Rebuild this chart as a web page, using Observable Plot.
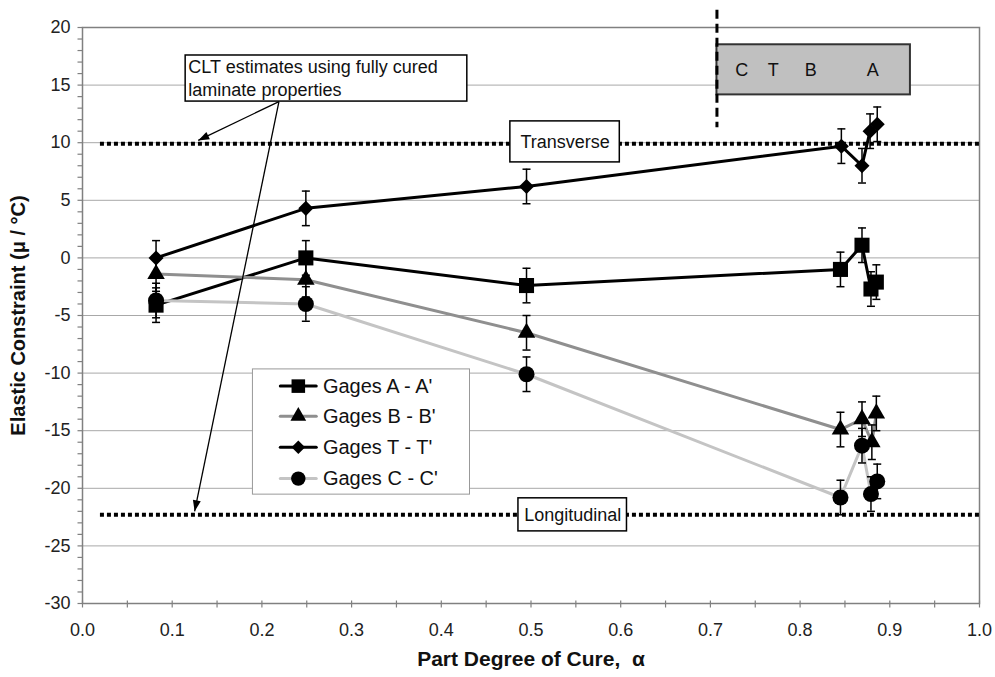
<!DOCTYPE html>
<html>
<head>
<meta charset="utf-8">
<script src="https://cdn.jsdelivr.net/npm/d3@7"></script>
<script src="https://cdn.jsdelivr.net/npm/@observablehq/plot@0.6"></script>
<style>
  body { margin: 0; background: #fff; }
  svg { display: block; }
</style>
</head>
<body>
<div id="chart"></div>
<script>
// Elastic constraint measured by each gage pair vs. part degree of cure
const cureA = [0.082, 0.249, 0.495, 0.845, 0.869, 0.879, 0.885];
const gageA = [-4.1, 0.0, -2.4, -1.0, 1.1, -2.7, -2.1];
const cureB = [0.082, 0.249, 0.495, 0.845, 0.869, 0.880, 0.885];
const gageB = [-1.4, -1.9, -6.5, -14.9, -14.0, -16.0, -13.5];
const cureT = [0.082, 0.249, 0.495, 0.846, 0.869, 0.878, 0.886];
const gageT = [0.0, 4.3, 6.2, 9.7, 8.0, 11.0, 11.6];
const cureC = [0.082, 0.249, 0.495, 0.845, 0.869, 0.879, 0.886];
const gageC = [-3.7, -4.0, -10.1, -20.8, -16.3, -20.5, -19.4];
const errorHalf = 1.5;

// CLT estimates (fully cured laminate)
const cltTransverse = 9.9;
const cltLongitudinal = -22.3;

// Gage locations along the part
const gageLetters = ["C", "T", "B", "A"];
const gageLetterX = [0.735, 0.770, 0.812, 0.881];

const seriesNames = ["Gages A - A'", "Gages B - B'", "Gages T - T'", "Gages C - C'"];
const xTicks = [0, 0.1, 0.2, 0.3, 0.4, 0.5, 0.6, 0.7, 0.8, 0.9, 1.0];
const yTicks = [-30, -25, -20, -15, -10, -5, 0, 5, 10, 15, 20];

// ---- symbols ----
const diamond = {draw(ctx, size) {
  const h = Math.sqrt(size / 2);
  ctx.moveTo(0, -h); ctx.lineTo(h, 0); ctx.lineTo(0, h); ctx.lineTo(-h, 0); ctx.closePath();
}};
const capSymbol = {draw(ctx) { ctx.moveTo(-4, 0); ctx.lineTo(4, 0); }};
const yTickSymbol = {draw(ctx) { ctx.moveTo(-5, 0); ctx.lineTo(0, 0); }};
const xTickSymbol = {draw(ctx) { ctx.moveTo(0, -3); ctx.lineTo(0, 4); }};
// filled arrowhead, tip at the origin pointing up (rotated per arrow)
const arrowHead = {draw(ctx) { ctx.moveTo(0, 0); ctx.lineTo(-4, 11); ctx.lineTo(4, 11); ctx.closePath(); }};

const styles = [
  {stroke: "#000000", symbol: "square", r: 8.5},
  {stroke: "#8f8f8f", symbol: "triangle", r: 6.5},
  {stroke: "#000000", symbol: diamond, r: 6},
  {stroke: "#c4c4c4", symbol: "circle", r: 8}
];
const cures = [cureA, cureB, cureT, cureC];
const values = [gageA, gageB, gageT, gageC];
const series = seriesNames.map((name, k) => ({
  name, ...styles[k],
  points: cures[k].map((x, i) => ({x, y: values[k][i]}))
}));
const allPoints = series.flatMap(s => s.points);

const font = "'Liberation Sans', Arial, Helvetica, sans-serif";
const minorY = d3.range(-30, 20.001, 1);
const minorX = d3.range(0, 1.0001, 0.05).map(v => +v.toFixed(2));

// legend layout (in data units, inside the plot)
const legBox = {x1: 0.190, x2: 0.432, y1: -20.55, y2: -9.68};
const legRows = [-11.13, -13.74, -16.43, -19.16];

// CLT callout arrows
const cltArrows = [
  {x1: 0.219, y1: 13.57, x2: 0.129, y2: 10.2},
  {x1: 0.219, y1: 13.57, x2: 0.125, y2: -22.0}
];

const layout = {
  width: 995,
  height: 677,
  marginTop: 27,
  marginBottom: 74,
  marginLeft: 82,
  marginRight: 16,
  style: {fontFamily: font, background: "#fff"},
  x: {domain: [0, 1], axis: null},
  y: {domain: [-30, 20], axis: null}
};

// screen-space direction of each arrow, for orienting its head
const probe = Plot.plot({...layout, marks: [Plot.frame()]});
const sx = probe.scale("x"), sy = probe.scale("y");
cltArrows.forEach(a => {
  const dx = sx.apply(a.x2) - sx.apply(a.x1);
  const dy = sy.apply(a.y2) - sy.apply(a.y1);
  a.angle = Math.atan2(dx, -dy) * 180 / Math.PI;
});

const marks = [
  // horizontal gridlines
  Plot.ruleY(d3.range(-25, 20, 5), {stroke: "#a8a8a8", strokeWidth: 1}),
  Plot.frame({stroke: "#808080", strokeWidth: 1.5}),
  // axes
  Plot.axisY({ticks: yTicks, tickSize: 0, tickPadding: 12, fontSize: 18, label: null, fill: "#222", tickFormat: d => `${d}`}),
  Plot.axisX({ticks: xTicks, tickSize: 0, tickPadding: 20, fontSize: 18, label: null, fill: "#222", tickFormat: d3.format(".1f")}),
  Plot.dot(minorY, {x: () => 0, y: d => d, symbol: yTickSymbol, stroke: "#808080", strokeWidth: 1.2}),
  Plot.dot(minorX, {x: d => d, y: () => -30, symbol: xTickSymbol, stroke: "#808080", strokeWidth: 1.2}),
  Plot.text(["Elastic Constraint (\u03bc / \u00b0C)"], {frameAnchor: "left", textAnchor: "middle", dx: -64, rotate: -90, fontSize: 20, fontWeight: "bold", fill: "#111"}),
  Plot.text(["Part Degree of Cure,  \u03b1"], {frameAnchor: "bottom", dy: 62, fontSize: 21, fontWeight: "bold", fill: "#111"}),

  // CLT reference lines
  Plot.ruleY([cltTransverse, cltLongitudinal], {x1: 0.02, x2: 1.0, stroke: "#000", strokeWidth: 4, strokeDasharray: "4,3"}),

  // gage series lines
  ...series.map(s => Plot.line(s.points, {x: "x", y: "y", stroke: s.stroke, strokeWidth: 3})),
  // error bars
  Plot.ruleX(allPoints, {x: "x", y1: d => d.y - errorHalf, y2: d => d.y + errorHalf, stroke: "#000", strokeWidth: 1.5}),
  Plot.dot(allPoints, {x: "x", y: d => d.y - errorHalf, symbol: capSymbol, stroke: "#000", strokeWidth: 1.5}),
  Plot.dot(allPoints, {x: "x", y: d => d.y + errorHalf, symbol: capSymbol, stroke: "#000", strokeWidth: 1.5}),
  // markers
  ...series.map(s => Plot.dot(s.points, {x: "x", y: "y", symbol: s.symbol, r: s.r, fill: "#000", stroke: "none"})),

  // annotation: CLT estimates
  Plot.link(cltArrows, {x1: "x1", y1: "y1", x2: "x2", y2: "y2", stroke: "#000", strokeWidth: 1.3}),
  Plot.dot(cltArrows, {x: "x2", y: "y2", rotate: "angle", symbol: arrowHead, fill: "#000", stroke: "none"}),
  Plot.rect([{x1: 0.115, x2: 0.429, y1: 13.57, y2: 17.57}], {x1: "x1", x2: "x2", y1: "y1", y2: "y2", fill: "#fff", stroke: "#000", strokeWidth: 1.5}),
  Plot.text(["CLT estimates using fully cured", "laminate properties"], {x: 0.118, y: (d, i) => [16.55, 14.58][i], textAnchor: "start", fontSize: 18, fill: "#111"}),

  Plot.rect([{x1: 0.477, x2: 0.599, y1: 8.29, y2: 11.85}], {x1: "x1", x2: "x2", y1: "y1", y2: "y2", fill: "#fff", stroke: "#000", strokeWidth: 1.5}),
  Plot.text(["Transverse"], {x: 0.538, y: 10.0, fontSize: 18, fill: "#111"}),
  Plot.rect([{x1: 0.486, x2: 0.607, y1: -23.74, y2: -20.87}], {x1: "x1", x2: "x2", y1: "y1", y2: "y2", fill: "#fff", stroke: "#000", strokeWidth: 1.5}),
  Plot.text(["Longitudinal"], {x: 0.5465, y: -22.3, fontSize: 18, fill: "#111"}),

  // gage location strip
  Plot.rect([{x1: 0.7073, x2: 0.923, y1: 14.15, y2: 18.5}], {x1: "x1", x2: "x2", y1: "y1", y2: "y2", fill: "#c0c0c0", stroke: "#333", strokeWidth: 2}),
  Plot.text(gageLetters, {x: (d, i) => gageLetterX[i], y: 16.32, fontSize: 18, fill: "#111"}),
  Plot.ruleX([0.7073], {y1: 21.5, y2: 11.3, stroke: "#000", strokeWidth: 3, strokeDasharray: "9,5"}),

  // legend
  Plot.rect([legBox], {x1: "x1", x2: "x2", y1: "y1", y2: "y2", fill: "#fff", stroke: "#999", strokeWidth: 1}),
  ...series.map((s, k) => Plot.line([{x: 0.2205, y: legRows[k]}, {x: 0.2606, y: legRows[k]}], {x: "x", y: "y", stroke: s.stroke, strokeWidth: 3})),
  ...series.map((s, k) => Plot.dot([{x: 0.2406, y: legRows[k]}], {x: "x", y: "y", symbol: s.symbol, r: s.r * 0.9, fill: "#000", stroke: "none"})),
  Plot.text(series, {x: 0.268, y: (d, i) => legRows[i], text: "name", textAnchor: "start", fontSize: 20, fill: "#111"})
];

const chart = Plot.plot({...layout, marks});
document.getElementById("chart").appendChild(chart);
</script>
</body>
</html>
